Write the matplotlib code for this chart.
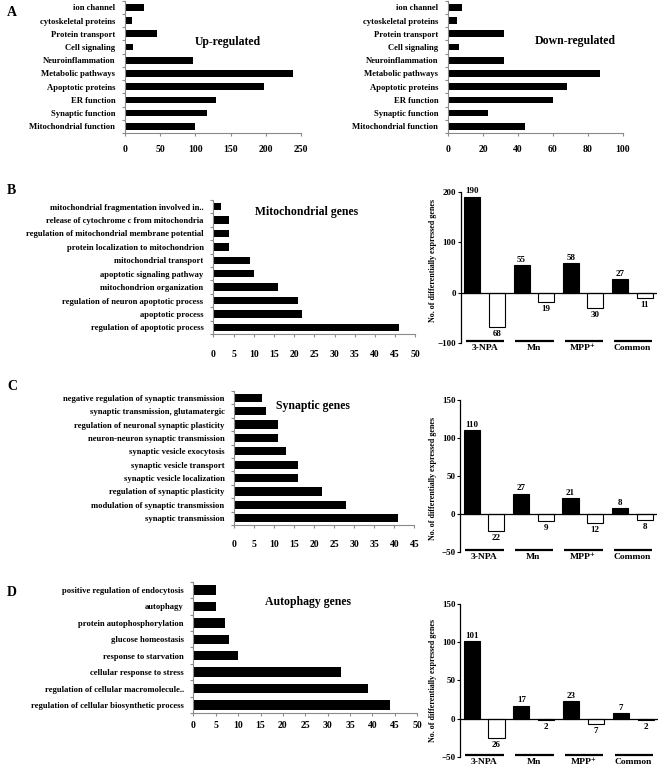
import numpy as np
import matplotlib
matplotlib.use("Agg")
import matplotlib.pyplot as plt
import matplotlib.transforms as mtransforms

plt.rcParams['font.family'] = ['Liberation Serif', 'DejaVu Serif']
plt.rcParams['font.weight'] = 'bold'

# ---------------- data ----------------
A_categories = ['ion channel', 'cytoskeletal proteins', 'Protein transport', 'Cell signaling',
                'Neuroinflammation', 'Metabolic pathways', 'Apoptotic proteins', 'ER function',
                'Synaptic function', 'Mitochondrial function']
A_up = [27, 10, 46, 12, 97, 239, 198, 129, 117, 100]
A_down = [8, 5, 32, 6, 32, 87, 68, 60, 23, 44]

B_terms = ['mitochondrial fragmentation involved in..', 'release of cytochrome c from mitochondria',
           'regulation of mitochondrial membrane potential', 'protein localization to mitochondrion',
           'mitochondrial transport', 'apoptotic signaling pathway', 'mitochondrion organization',
           'regulation of neuron apoptotic process', 'apoptotic process', 'regulation of apoptotic process']
B_counts = [2, 4, 4, 4, 9, 10, 16, 21, 22, 46]

C_terms = ['negative regulation of synaptic transmission', 'synaptic transmission, glutamatergic',
           'regulation of neuronal synaptic plasticity', 'neuron-neuron synaptic transmission',
           'synaptic vesicle exocytosis', 'synaptic vesicle transport', 'synaptic vesicle localization',
           'regulation of synaptic plasticity', 'modulation of synaptic transmission', 'synaptic transmission']
C_counts = [7, 8, 11, 11, 13, 16, 16, 22, 28, 41]

D_terms = ['positive regulation of endocytosis', 'autophagy', 'protein autophosphorylation',
           'glucose homeostasis', 'response to starvation', 'cellular response to stress',
           'regulation of cellular macromolecule..', 'regulation of cellular biosynthetic process']
D_counts = [5, 5, 7, 8, 10, 33, 39, 44]

groups = ['3-NPA', 'Mn', 'MPP\u207a', 'Common']
B_up = [190, 55, 58, 27]
B_down = [68, 19, 30, 11]
C_up = [110, 27, 21, 8]
C_down = [22, 9, 12, 8]
D_up = [101, 17, 23, 7]
D_down = [26, 2, 7, 2]

B_yticks = [-100, 0, 100, 200]
C_yticks = [-50, 0, 50, 100, 150]
D_yticks = [-50, 0, 50, 100, 150]

# ---------------- layout helpers ----------------
W, H = 660, 767
fig = plt.figure(figsize=(W / 100, H / 100), dpi=100)


def box(x0, y0, x1, y1):
    return [x0 / W, 1 - y1 / H, (x1 - x0) / W, (y1 - y0) / H]


GREY = '#8a8a8a'


def hbar(ax, terms, vals, xmax, step, height, xpad, lab_fs=6.2):
    n = len(terms)
    y = np.arange(n)
    ax.barh(y, vals, height=height, color='black')
    ax.set_ylim(n - 0.5, -0.5)
    ax.set_xlim(0, xmax)
    ax.set_xticks(np.arange(0, xmax + 0.1, step))
    ax.set_yticks(y)
    ax.set_yticklabels(terms, fontsize=lab_fs, fontweight='bold')
    ax.set_yticks(np.arange(-0.5, n, 1), minor=True)
    ax.tick_params(axis='y', which='major', length=0, pad=7)
    ax.tick_params(axis='y', which='minor', length=2.5, color=GREY, width=0.8, direction='out')
    ax.tick_params(axis='x', which='major', length=2.5, color=GREY, width=0.8, pad=xpad,
                   labelsize=7)
    for lab in ax.get_xticklabels():
        lab.set_fontweight('bold')
    for s in ['top', 'right']:
        ax.spines[s].set_visible(False)
    for s in ['left', 'bottom']:
        ax.spines[s].set_color(GREY)
        ax.spines[s].set_linewidth(0.8)


def updown(ax, up, down, yticks, line_frac, lab_gap):
    pos = np.arange(8)
    up = np.array(up)
    down = np.array(down)
    ax.bar(pos[0::2], up, width=0.65, color='black', edgecolor='black', linewidth=0.8, zorder=2)
    ax.bar(pos[1::2], -down, width=0.65, color='white', edgecolor='black', linewidth=0.8, zorder=2)
    ax.axhline(0, color='black', linewidth=0.9, zorder=3)
    ax.set_xlim(-0.47, 7.5)
    ax.set_ylim(yticks[0], yticks[-1])
    ax.set_yticks(yticks)
    ax.set_xticks([])
    ax.tick_params(axis='y', length=2.5, width=0.8, pad=0.8, labelsize=6.5)
    for lab in ax.get_yticklabels():
        lab.set_fontweight('bold')
    for s in ['top', 'right', 'bottom']:
        ax.spines[s].set_visible(False)
    ax.spines['left'].set_linewidth(0.9)
    for i in range(4):
        ax.annotate(str(up[i]), (pos[2 * i], up[i]), xytext=(0, 1), textcoords='offset points',
                    ha='center', va='bottom', fontsize=6.5, fontweight='bold')
        ax.annotate(str(down[i]), (pos[2 * i + 1], -down[i]), xytext=(0, -2), textcoords='offset points',
                    ha='center', va='top', fontsize=6.5, fontweight='bold')
    trans = mtransforms.blended_transform_factory(ax.transData, ax.transAxes)
    for i, g in enumerate(groups):
        x0 = 2 * i - 0.25
        x1 = 2 * i + 1.3
        ax.plot([x0, x1], [line_frac, line_frac], transform=trans, color='black',
                linewidth=1.6, clip_on=False, solid_capstyle='butt')
        ax.annotate(g, (2 * i + 0.5, line_frac), xycoords=trans, xytext=(0, -lab_gap),
                    textcoords='offset points', ha='center', va='top', fontsize=6.8,
                    fontweight='bold', annotation_clip=False)


# ---------------- panel A ----------------
axA1 = fig.add_axes(box(125, 0.7, 301, 133))
hbar(axA1, A_categories, A_up, 250, 50, 0.5, 6)
axA2 = fig.add_axes(box(448, 0.7, 623, 133))
hbar(axA2, A_categories, A_down, 100, 20, 0.5, 6)

# ---------------- panel B ----------------
axB1 = fig.add_axes(box(213.3, 200, 415.3, 334))
hbar(axB1, B_terms, B_counts, 50, 5, 0.55, 9)
axB2 = fig.add_axes(box(460.7, 191.7, 657, 343.3))
updown(axB2, B_up, B_down, B_yticks, 0.012, 2.0)

# ---------------- panel C ----------------
axC1 = fig.add_axes(box(234.3, 391, 414.3, 525))
hbar(axC1, C_terms, C_counts, 45, 5, 0.6, 8)
axC2 = fig.add_axes(box(460, 400, 657, 552.3))
updown(axC2, C_up, C_down, C_yticks, 0.012, 2.0)

# ---------------- panel D ----------------
axD1 = fig.add_axes(box(193.5, 581.7, 417, 713.3))
hbar(axD1, D_terms, D_counts, 50, 5, 0.57, 3)
axD2 = fig.add_axes(box(460, 604, 658, 756.7))
updown(axD2, D_up, D_down, D_yticks, 0.012, 2.0)

# ---------------- texts ----------------
def ftext(x, y, s, **kw):
    fig.text(x / W, 1 - y / H, s, fontweight='bold', **kw)


for x, y, s in [(7, 13, 'A'), (7, 190, 'B'), (7, 386, 'C'), (7, 593, 'D')]:
    ftext(x, y, s, fontsize=10, ha='left', va='center')

for x, y, s in [(228, 42, 'Up-regulated'), (575, 41, 'Down-regulated'),
                (307, 212, 'Mitochondrial genes'), (313, 406, 'Synaptic genes'),
                (308, 602, 'Autophagy genes')]:
    ftext(x, y, s, fontsize=8.5, ha='center', va='center')

for y in [260, 478, 680]:
    ftext(433, y, 'No. of differentially expressed genes', fontsize=5.8, rotation=90,
          ha='center', va='center')

fig.savefig('out.png', dpi=100)
